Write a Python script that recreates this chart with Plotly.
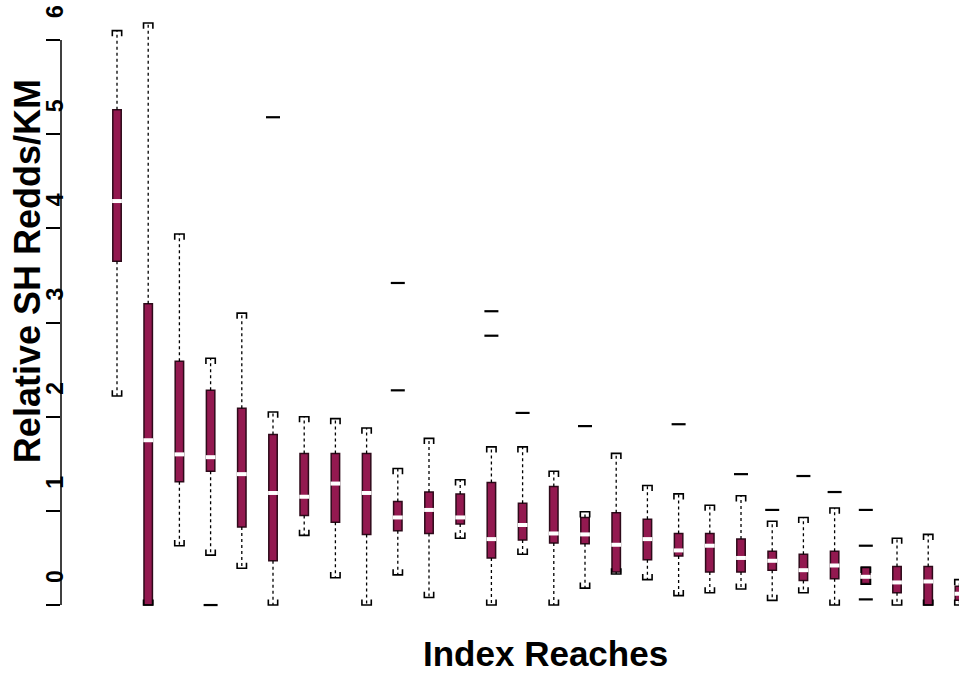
import plotly.graph_objects as go

# ---- data ----
reach = list(range(1, 29))
upper_whisker = [6.10, 6.18, 3.94, 2.62, 3.10, 2.05, 2.00, 1.98, 1.88, 1.45, 1.77, 1.33, 1.68, 1.68,
                 1.42, 0.99, 1.61, 1.27, 1.18, 1.06, 1.16, 0.89, 0.93, 1.03, 0.40, 0.71, 0.75, 0.27]
q3 = [5.26, 3.20, 2.59, 2.28, 2.09, 1.81, 1.61, 1.61, 1.61, 1.10, 1.20, 1.18, 1.30, 1.08,
      1.26, 0.93, 0.98, 0.91, 0.76, 0.76, 0.70, 0.57, 0.54, 0.57, 0.40, 0.41, 0.41, 0.20]
median = [4.29, 1.75, 1.60, 1.57, 1.39, 1.19, 1.15, 1.29, 1.19, 0.93, 1.01, 0.93, 0.70, 0.85,
          0.76, 0.75, 0.64, 0.70, 0.58, 0.63, 0.50, 0.47, 0.37, 0.42, 0.30, 0.24, 0.25, 0.12]
q1 = [3.65, 0.00, 1.31, 1.42, 0.83, 0.47, 0.95, 0.88, 0.75, 0.79, 0.76, 0.86, 0.50, 0.69,
      0.66, 0.65, 0.35, 0.48, 0.52, 0.35, 0.35, 0.37, 0.26, 0.28, 0.23, 0.13, 0.00, 0.05]
lower_whisker = [2.22, 0.00, 0.63, 0.53, 0.39, 0.00, 0.74, 0.29, 0.00, 0.32, 0.08, 0.71, 0.00, 0.54,
                 0.00, 0.18, 0.33, 0.27, 0.10, 0.13, 0.17, 0.05, 0.13, 0.00, 0.22, 0.00, 0.00, 0.00]
outlier_reach = [4, 6, 10, 10, 13, 13, 14, 16, 19, 21, 22, 23, 24, 25, 25, 25]
outlier_value = [0.00, 5.18, 3.42, 2.28, 3.12, 2.86, 2.04, 1.90, 1.92, 1.39, 1.01, 1.37, 1.20, 1.01, 0.63, 0.06]
y_ticks = [0, 1, 2, 3, 4, 5, 6]
y_title = "Relative SH Redds/KM"
x_title = "Index Reaches"

FILL = "#931950"
EDGE = "#2e0a1a"
FONT = "Liberation Sans, Arial, Helvetica, sans-serif"

fig = go.Figure()

# whiskers (dotted)
wx, wy = [], []
for x, lo, a, b, hi in zip(reach, lower_whisker, q1, q3, upper_whisker):
    if hi > b:
        wx += [x, x, None]; wy += [b, hi, None]
    if lo < a:
        wx += [x, x, None]; wy += [a, lo, None]
fig.add_trace(go.Scatter(x=wx, y=wy, mode="lines", line=dict(color="black", width=1.3, dash="dot"),
                         hoverinfo="skip", showlegend=False))

# whisker caps (bracket shaped)
hw, h = 0.15, 0.06
cx, cy = [], []
for x, lo, hi in zip(reach, lower_whisker, upper_whisker):
    cx += [x - hw, x - hw, x + hw, x + hw, None]; cy += [hi - h, hi, hi, hi - h, None]
    cx += [x - hw, x - hw, x + hw, x + hw, None]; cy += [lo + h, lo, lo, lo + h, None]
fig.add_trace(go.Scatter(x=cx, y=cy, mode="lines", line=dict(color="black", width=1.6),
                         hoverinfo="skip", showlegend=False))

# boxes
fig.add_trace(go.Box(x=reach, q1=q1, median=median, q3=q3, lowerfence=q1, upperfence=q3,
                     width=0.27, whiskerwidth=0, fillcolor=FILL, line=dict(color=EDGE, width=1.5),
                     boxpoints=False, showlegend=False))

# white medians
fig.add_trace(go.Scatter(x=reach, y=median, mode="markers",
                         marker=dict(symbol="line-ew", size=7, line=dict(color="white", width=4)),
                         hoverinfo="skip", showlegend=False))

# outliers
fig.add_trace(go.Scatter(x=outlier_reach, y=outlier_value, mode="markers",
                         marker=dict(symbol="line-ew", size=10, line=dict(color="black", width=2.2)),
                         hoverinfo="skip", showlegend=False))

# y axis line spanning only the tick range
fig.add_shape(type="line", xref="paper", x0=0, x1=0, yref="y", y0=min(y_ticks), y1=max(y_ticks),
              line=dict(color="black", width=1.5))

fig.add_annotation(text=y_title, textangle=-90, xref="paper", yref="paper", x=-0.038, y=0.566,
                   xanchor="center", yanchor="middle", showarrow=False,
                   font=dict(family=FONT, size=36, color="black", weight="bold"))
fig.add_annotation(text=x_title, xref="paper", yref="paper", x=0.539, y=-0.045,
                   xanchor="center", yanchor="middle", showarrow=False,
                   font=dict(family=FONT, size=35, color="black", weight="bold"))

fig.update_layout(
    width=959, height=677,
    margin=dict(l=61, r=0, t=0, b=52),
    paper_bgcolor="white", plot_bgcolor="white",
    font=dict(family=FONT, color="black"),
    xaxis=dict(range=[-0.795, 27.987], visible=False, showgrid=False, zeroline=False),
    yaxis=dict(range=[-0.212, 6.425], tickvals=y_ticks, ticktext=[str(v) for v in y_ticks],
               ticks="outside", ticklen=14, tickwidth=1.5, tickcolor="black",
               tickangle=-90, tickfont=dict(family=FONT, size=23, color="black", weight="bold"),
               ticklabelshift=-25, ticklabelstandoff=-26,
               showgrid=False, zeroline=False, showline=False),
)

fig.write_html("out.html")
